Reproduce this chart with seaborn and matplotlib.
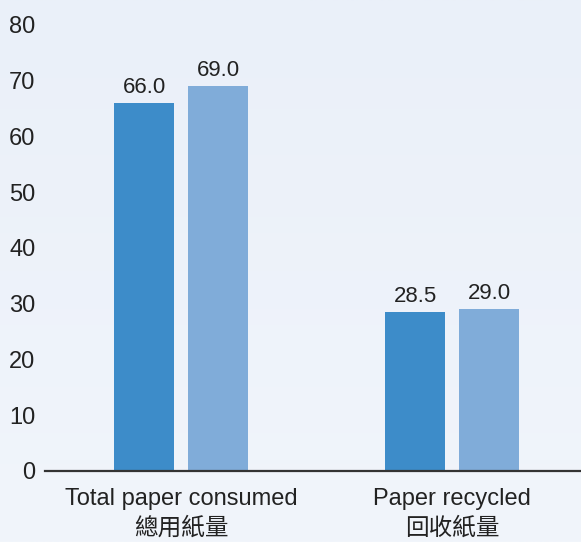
"""
Paper consumed vs recycled, grouped bars
"""

import numpy as np
import pandas as pd
import seaborn as sns
import matplotlib.pyplot as plt

categories = ["Total paper consumed\n總用紙量", "Paper recycled\n回收紙量"]
series = ["A", "B"]
values_a = [66.0, 28.5]
values_b = [69.0, 29.0]
yticks = [0, 10, 20, 30, 40, 50, 60, 70, 80]
colors = ["#3d8cc9", "#80acd9"]


def main():
    sns.set_style("white")
    plt.rcParams["font.family"] = ["Liberation Sans", "Noto Sans CJK TC", "DejaVu Sans"]
    plt.rcParams["text.color"] = "#222222"

    df = pd.DataFrame({
        "category": categories * 2,
        "series": [series[0]] * 2 + [series[1]] * 2,
        "value": values_a + values_b,
    })

    fig = plt.figure(figsize=(5.81, 5.42), dpi=100)
    fig.patch.set_facecolor("#eef3fb")

    # soft background gradient
    bg = fig.add_axes([0, 0, 1, 1], zorder=-1)
    grad = np.linspace(0, 1, 256).reshape(-1, 1)
    bg.imshow(grad, aspect="auto", cmap=sns.blend_palette(["#eaf0f9", "#f1f5fb"], as_cmap=True),
              extent=[0, 1, 0, 1])
    bg.axis("off")

    ax = fig.add_axes([0.0775, 0.131, 0.9225, 0.8236])
    ax.set_facecolor("none")
    sns.barplot(data=df, x="category", y="value", hue="series", palette=colors,
                width=0.546, gap=0.19, legend=False, ax=ax, saturation=1,
                linewidth=0, edgecolor="none")

    for cont in ax.containers:
        ax.bar_label(cont, fmt="%.1f", padding=3.5, fontsize=16, color="#222222")

    ax.set_ylim(0, 80)
    ax.set_xlim(-0.502, 1.476)
    ax.set_yticks(yticks)
    ax.tick_params(axis="y", length=0, pad=7, labelsize=17, labelcolor="#222222")
    ax.tick_params(axis="x", length=0, pad=12, labelsize=17, labelcolor="#222222")
    for lab in ax.get_xticklabels():
        lab.set_linespacing(1.42)
    ax.set_xlabel("")
    ax.set_ylabel("")
    for s in ["top", "right", "left"]:
        ax.spines[s].set_visible(False)
    ax.spines["bottom"].set_color("#333333")
    ax.spines["bottom"].set_linewidth(1.6)

    fig.savefig("out.png", dpi=100, facecolor=fig.get_facecolor())


if __name__ == "__main__":
    main()
